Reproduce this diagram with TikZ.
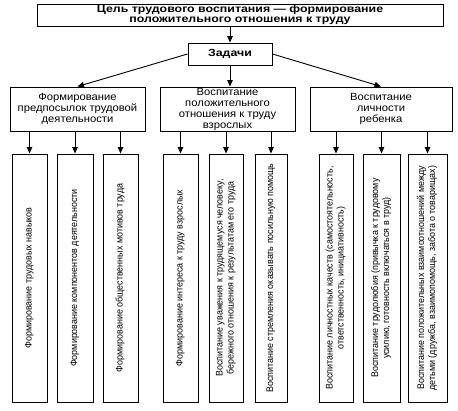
\documentclass[tikz,border=0pt]{standalone}
\usepackage{fontspec}
\setmainfont{Liberation Sans}
\newfontfamily\widefont[FakeStretch=1.2]{Liberation Sans}
\newfontfamily\midfont[FakeStretch=1.08]{Liberation Sans}
\newfontfamily\leaffont[FakeStretch=0.93]{Liberation Sans}
\usetikzlibrary{arrows.meta}
\tikzset{
  box/.style={draw, line width=1pt, inner sep=0pt, align=center},
  topbox/.style={box, font=\widefont\bfseries\fontsize{10.3}{10.5}\selectfont},
  midbox/.style={box, font=\midfont\fontsize{10.4}{11}\selectfont, minimum height=44pt},
  leaf/.style={box, minimum height=248pt},
  arr/.style={line width=0.9pt, -{Triangle[length=6.5pt,width=5.5pt]}}
}
\newcommand{\leaftext}[1]{\rotatebox{90}{\leaffont\fontsize{9.6}{11}\selectfont\begin{tabular}{@{}c@{}}#1\end{tabular}}}
\begin{document}
\begin{tikzpicture}[x=1pt,y=-1pt]
\useasboundingbox (0,0) rectangle (458,410);
\node[topbox, minimum width=406pt, minimum height=22pt] (top) at (240,15)
  {Цель трудового воспитания — формирование\\положительного отношения к труду};
\node[topbox, minimum width=84pt, minimum height=22pt] (zad) at (230,54) {Задачи};
\node[midbox, minimum width=135pt] (m1) at (77.5,109) {Формирование\\предпосылок трудовой\\деятельности};
\node[midbox, minimum width=135pt] (m2) at (227.5,109) {Воспитание\\положительного\\отношения к труду\\взрослых};
\node[midbox, minimum width=142pt] (m3) at (381,109) {Воспитание\\личности\\ребенка};
% leaves
\node[leaf, minimum width=35pt] (b1) at (29.5,278) {\leaftext{Формирование трудовых навыков}};
\node[leaf, minimum width=36pt] (b2) at (75,278) {\leaftext{Формирование компонентов деятельности}};
\node[leaf, minimum width=35pt] (b3) at (120.5,278) {\leaftext{Формирование общественных мотивов труда}};
\node[leaf, minimum width=35pt] (b4) at (180.5,278) {\leaftext{Формирование интереса к труду взрослых}};
\node[leaf, minimum width=34pt] (b5) at (226,278) {\leaftext{Воспитание уважения к трудящемуся человеку,\\бережного отношения к результатам его труда}};
\node[leaf, minimum width=32pt] (b6) at (271,278) {\leaftext{Воспитание стремления оказывать посильную помощь}};
\node[leaf, minimum width=34pt] (b7) at (336,278) {\leaftext{Воспитание личностных качеств (самостоятельность,\\ответственность, инициативность)}};
\node[leaf, minimum width=37pt] (b8) at (381.5,278) {\leaftext{Воспитание трудолюбия (привычка к трудовому\\усилию, готовность включаться в труд)}};
\node[leaf, minimum width=39pt] (b9) at (427.5,278) {\leaftext{Воспитание положительных взаимоотношений между\\детьми (дружба, взаимопомощь, забота о товарищах)}};
% arrows
\draw[arr] (zad.north |- top.south) -- (zad.north);
\draw[arr] (zad.west) -- (m1.north);
\draw[arr] (zad.south) -- (zad.south |- m2.north);
\draw[arr] (zad.east) -- (m3.north);
\foreach \m/\b in {m1/b1,m1/b2,m1/b3,m2/b4,m2/b5,m2/b6,m3/b7,m3/b8,m3/b9}
  \draw[arr] (\b.north |- \m.south) -- (\b.north);
\end{tikzpicture}
\end{document}
